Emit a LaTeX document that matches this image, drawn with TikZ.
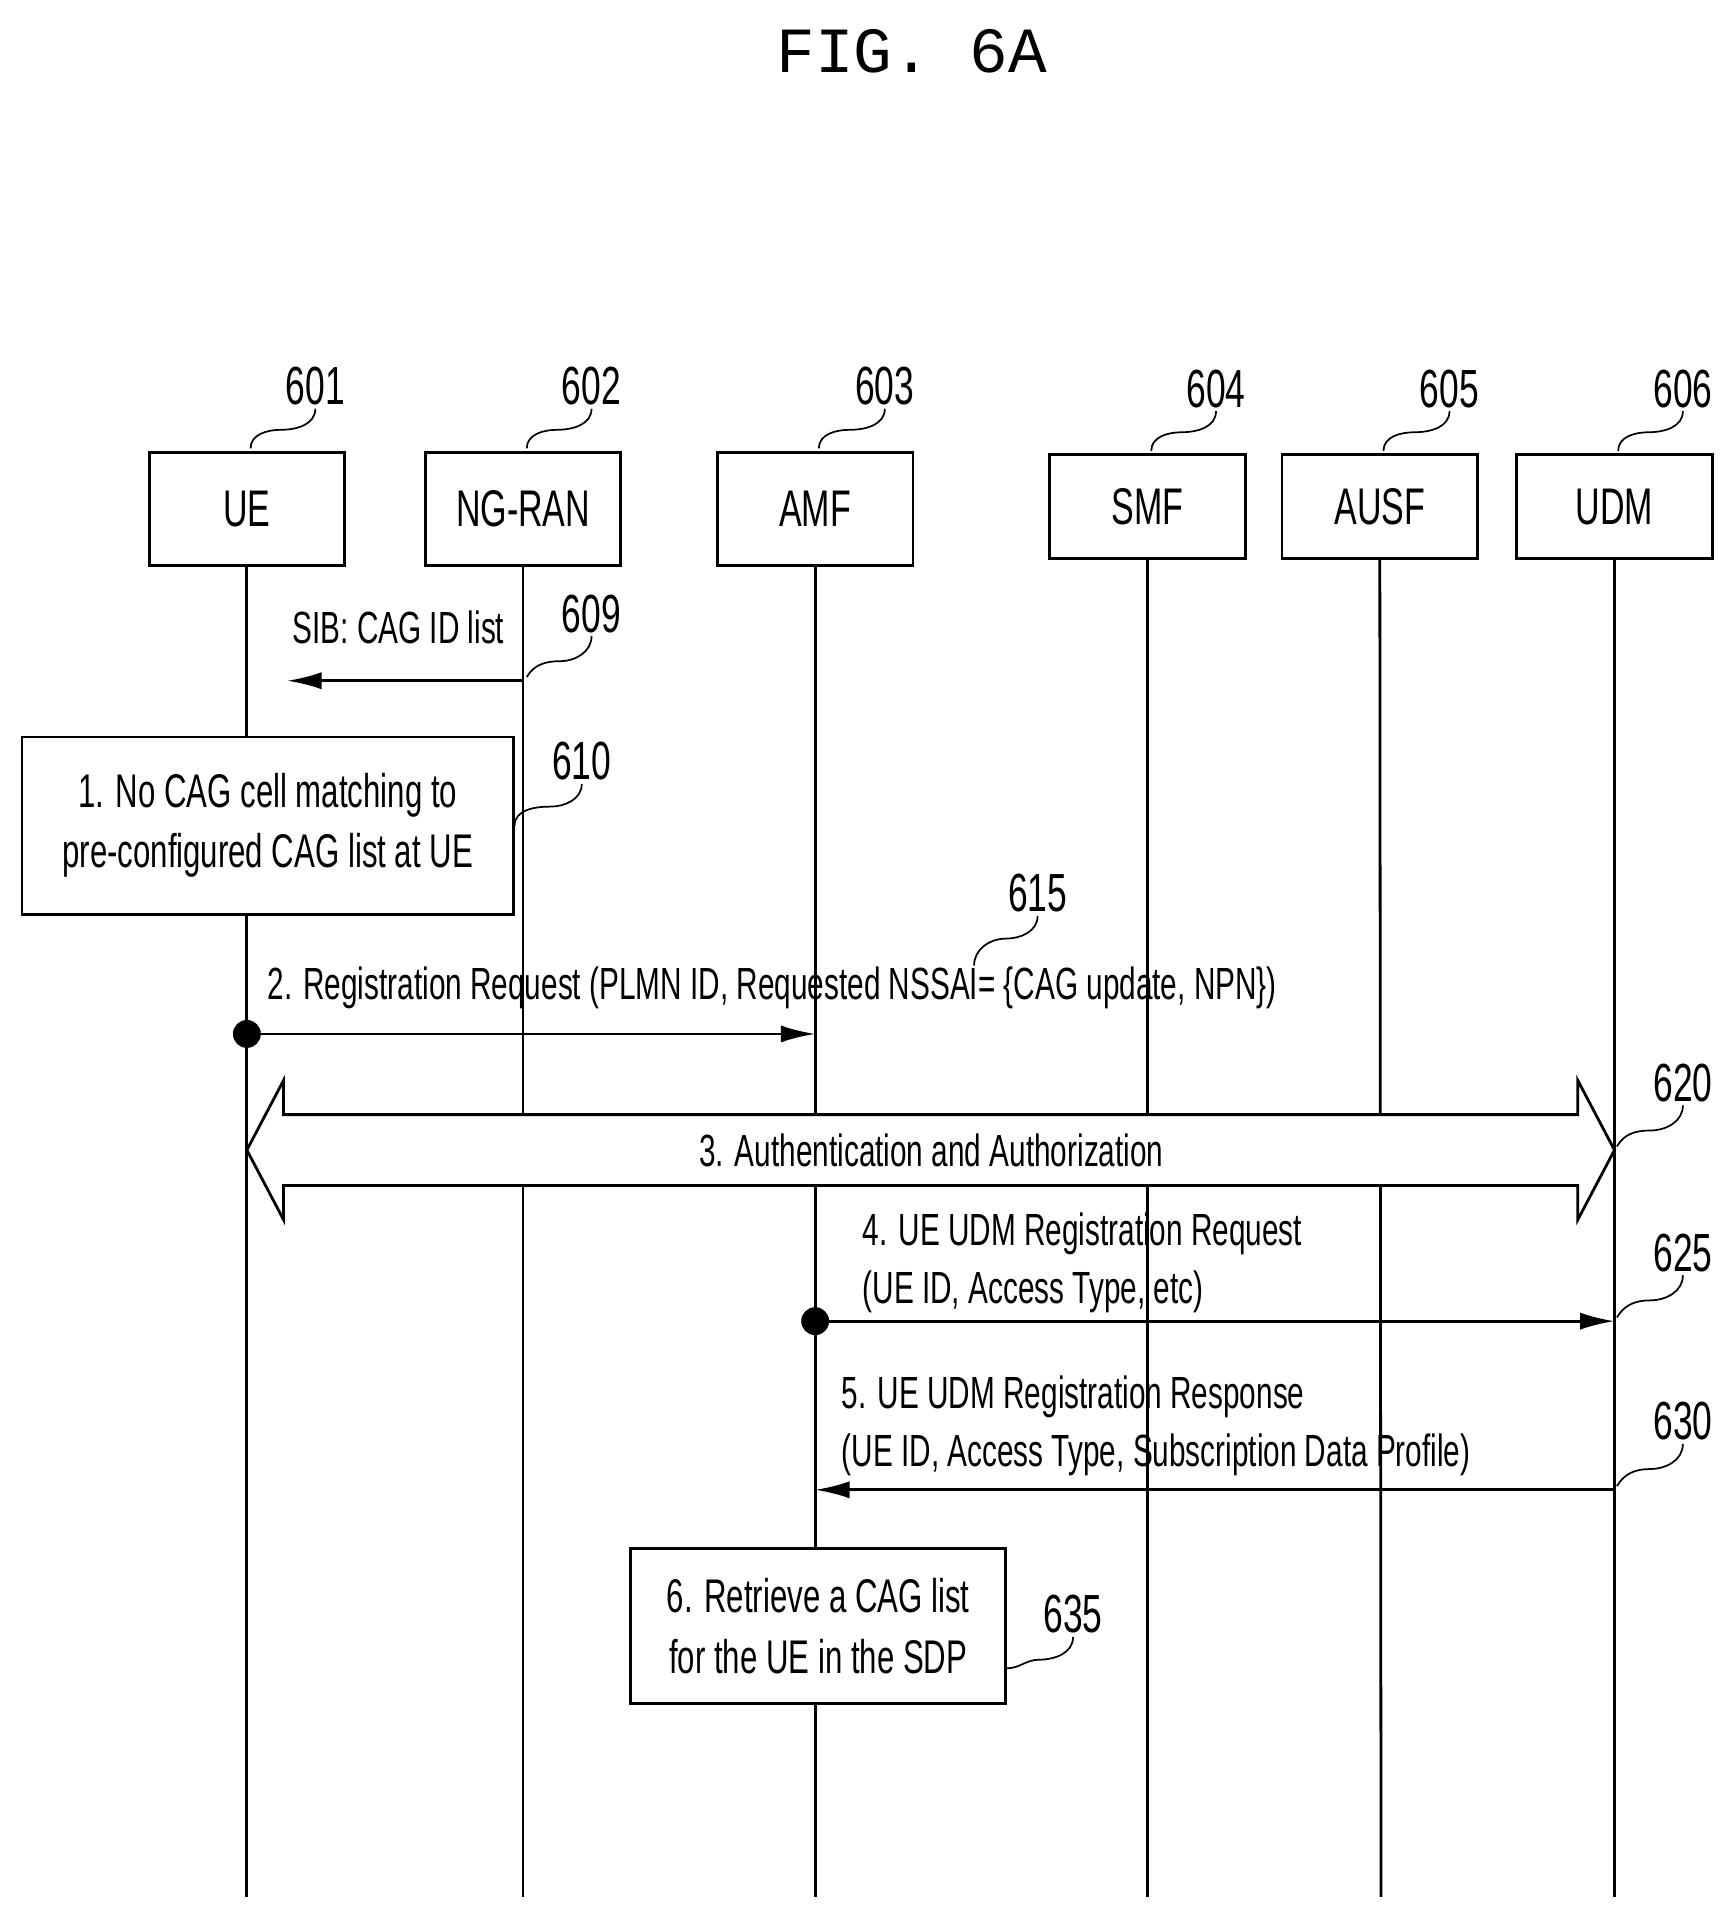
\documentclass[tikz,border=0pt]{standalone}
\usepackage{fontspec}
\setmainfont{Liberation Sans}[FakeStretch=0.66]
\newfontfamily\monof{Liberation Mono}
\usetikzlibrary{arrows.meta,calc}
\begin{document}
\begin{tikzpicture}[x=0.02cm,y=-0.02cm,line width=1.3pt,
 ent/.style={draw,fill=white,minimum width=3.2cm,inner sep=0pt,font=\fontsize{24}{26}\selectfont},
 num/.style={font=\fontsize{25}{27}\selectfont,inner sep=1pt},
 msg/.style={font=\fontsize{21}{27}\selectfont,inner sep=1pt},
 arr/.style={-{Latex[length=16pt,width=8pt]}},
 dot/.style={fill,circle,inner sep=0pt,minimum size=13pt},
 lead/.style={line width=0.8pt}]
\useasboundingbox (0,0) rectangle (1414,1562);
\node[font=\monof\fontsize{30}{32}\selectfont] (title) at (746,42) {FIG. 6A};
% entities
\node[ent,minimum height=1.86cm] (ue) at (202,416.5) {UE};
\node[ent,minimum height=1.86cm] (ran) at (428,416.5) {NG-RAN};
\node[ent,minimum height=1.86cm] (amf) at (667,416.5) {AMF};
\node[ent,minimum height=1.7cm] (smf) at (939,414.5) {SMF};
\node[ent,minimum height=1.7cm] (ausf) at (1129,414.5) {AUSF};
\node[ent,minimum height=1.7cm] (udm) at (1321,414.5) {UDM};
% lifelines
\foreach \n/\x in {ue/202,ran/428,amf/667,smf/939,ausf/1130,udm/1321}{
  \coordinate (\n end) at (\x,1552);
  \draw (\n.south) -- (\n end);}
% numbers
\foreach \n/\x/\y/\t in {ue/258/316/601,ran/484/316/602,amf/724/316/603,smf/995/318/604,ausf/1186/318/605,udm/1377/318/606}{
  \node[num] (l\t) at (\x,\y) {\t};
  \draw[lead] ($(\n.north)+(3,-2)$) to[out=90,in=180] ($(\n.north)!0.5!(l\t.south)$) to[out=0,in=-90] (l\t.south);}
% SIB
\coordinate (sibs) at (428,557); \coordinate (sibe) at (235,557);
\draw[arr] (sibs) -- (sibe);
\node[msg] (sib) at (326,513) {SIB: CAG ID list};
\node[num] (l609) at (484,502) {609};
\draw[lead] (431,554) to[out=60,in=180] (458,541) to[out=0,in=-90] (l609.south);
% box 1
\node[draw,fill=white,minimum width=8.04cm,minimum height=2.9cm,align=center,font=\fontsize{22}{28}\selectfont] (b1) at (219,675.5) {1. No CAG cell matching to\\pre-configured CAG list at UE};
\node[num] (l610) at (476,623) {610};
\draw[lead] (b1.east) to[out=90,in=180] (450,660) to[out=0,in=-90] (l610.south);
% msg 2
\node[dot] (d2) at (202,846) {};
\coordinate (m2e) at (667,846);
\draw[arr] (d2.center) -- (m2e);
\node[msg,anchor=west] (t2) at (216,808) {2. Registration Request (PLMN ID, Requested NSSAI= \{CAG update, NPN\})};
\node[num] (l615) at (849,731) {615};
\draw[lead] (797,790) to[out=90,in=180] (823,768) to[out=0,in=-90] (l615.south);
% auth double arrow
\draw[fill=white] (202,941) -- (232,884) -- (232,912) -- (1291,912) -- (1291,884) -- (1321,941) -- (1291,998) -- (1291,970) -- (232,970) -- (232,998) -- cycle;
\node[msg] (t3) at (762,941) {3. Authentication and Authorization};
\node[num] (l620) at (1377,886) {620};
\draw[lead] (1323,938) to[out=60,in=180] (1350,925) to[out=0,in=-90] (l620.south);
% msg 4
\node[dot] (d4) at (667,1081) {};
\coordinate (m4e) at (1321,1081);
\draw[arr] (d4.center) -- (m4e);
\node[msg,anchor=west,align=left] (t4) at (703,1033) {4. UE UDM Registration Request\\(UE ID, Access Type, etc)};
\node[num] (l625) at (1377,1025) {625};
\draw[lead] (1323,1078) to[out=60,in=180] (1350,1064) to[out=0,in=-90] (l625.south);
% msg 5
\coordinate (m5s) at (1321,1219); \coordinate (m5e) at (667,1219);
\draw[arr] (m5s) -- (m5e);
\node[msg,anchor=west,align=left] (t5) at (686,1167) {5. UE UDM Registration Response\\(UE ID, Access Type, Subscription Data Profile)};
\node[num] (l630) at (1377,1163) {630};
\draw[lead] (1323,1216) to[out=60,in=180] (1350,1202) to[out=0,in=-90] (l630.south);
% box 6
\node[draw,fill=white,minimum width=6.14cm,minimum height=2.54cm,align=center,font=\fontsize{22}{28}\selectfont] (b6) at (669.5,1330.5) {6. Retrieve a CAG list\\for the UE in the SDP};
\node[num] (l635) at (878,1321) {635};
\draw[lead] (824,1365) to[out=0,in=180] (850,1358) to[out=0,in=-90] (l635.south);
\end{tikzpicture}
\end{document}
